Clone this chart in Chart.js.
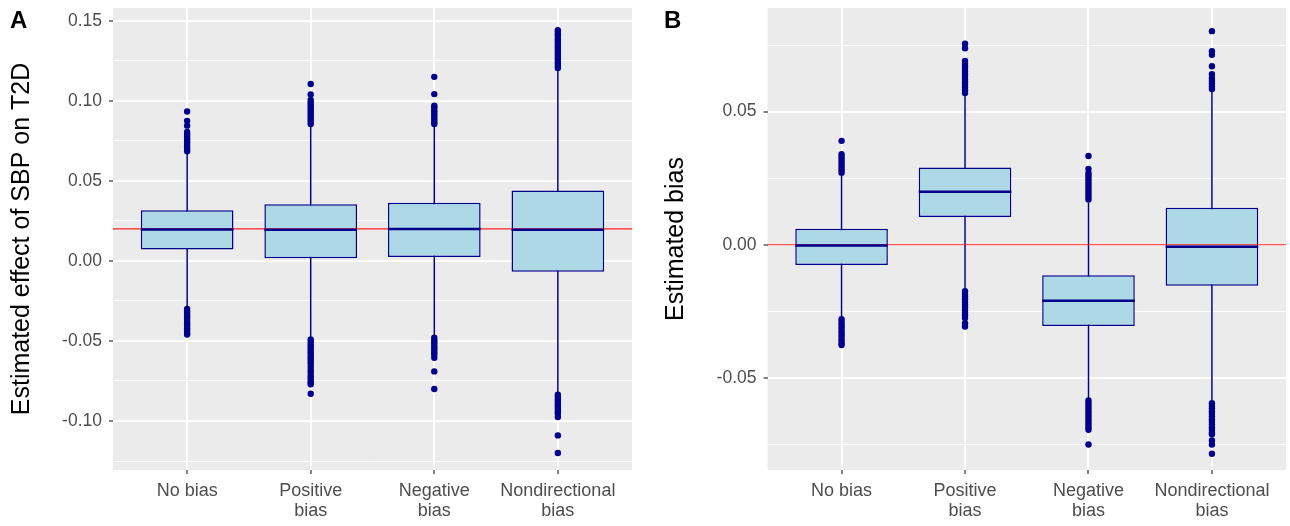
<!DOCTYPE html>
<html>
<head>
<meta charset="utf-8">
<script src="https://cdn.jsdelivr.net/npm/chart.js@4.4.1/dist/chart.umd.min.js"></script>
<style>
  body { margin: 0; background: #fff; width: 1290px; height: 526px; overflow: hidden; position: relative; }
  .panel { position: absolute; top: 0; }
  .tag { position: absolute; top: 8px; font: bold 24px/24px "Liberation Sans", Arial, sans-serif; color: #000; }
</style>
</head>
<body>
<div class="panel" style="left:0"><canvas id="chartA" width="640" height="526"></canvas></div>
<div class="panel" style="left:640px"><canvas id="chartB" width="650" height="526"></canvas></div>
<div class="tag" style="left:10px">A</div>
<div class="tag" style="left:664px">B</div>
<script>
var categories = [['No bias'], ['Positive', 'bias'], ['Negative', 'bias'], ['Nondirectional', 'bias']];

// Panel A - estimated effect of SBP on T2D
var a_q1 = [0.0071, 0.0017, 0.0025, -0.0067];
var a_median = [0.0196, 0.0195, 0.0200, 0.0195];
var a_q3 = [0.0317, 0.0354, 0.0363, 0.0440];
var a_whiskerLow = [-0.0296, -0.0477, -0.0469, -0.0820];
var a_whiskerHigh = [0.0673, 0.0840, 0.0844, 0.1194];
var a_outliersHigh = [
    [0.0685, 0.070, 0.0715, 0.073, 0.0745, 0.076, 0.0775, 0.079, 0.0805, 0.0845, 0.0875, 0.0933],
    [0.0855, 0.087, 0.0885, 0.090, 0.0915, 0.093, 0.0945, 0.096, 0.0975, 0.099, 0.1005, 0.104, 0.1105],
    [0.0855, 0.087, 0.0885, 0.090, 0.0915, 0.093, 0.0945, 0.096, 0.097, 0.1042, 0.115],
    [0.1205, 0.122, 0.1235, 0.125, 0.1265, 0.128, 0.1295, 0.131, 0.1325, 0.134, 0.1355, 0.137, 0.1385, 0.140, 0.1415, 0.143, 0.1442]
];
var a_outliersLow = [
    [-0.030, -0.0315, -0.033, -0.0345, -0.036, -0.0375, -0.039, -0.0405, -0.042, -0.0435, -0.045, -0.046],
    [-0.049, -0.0505, -0.052, -0.0535, -0.055, -0.0565, -0.058, -0.0595, -0.061, -0.0625, -0.064, -0.066, -0.068, -0.0695, -0.0715, -0.073, -0.0745, -0.076, -0.077, -0.083],
    [-0.048, -0.0495, -0.051, -0.0525, -0.054, -0.0555, -0.057, -0.0585, -0.0605, -0.069, -0.080],
    [-0.0835, -0.085, -0.0865, -0.088, -0.0895, -0.091, -0.0925, -0.094, -0.0955, -0.0975, -0.109, -0.120]
];
var a_reference = 0.02;
var a_ticks = [-0.125, -0.10, -0.075, -0.05, -0.025, 0, 0.025, 0.05, 0.075, 0.10, 0.125, 0.15];
var a_tickLabels = ['', '-0.10', '', '-0.05', '', '0.00', '', '0.05', '', '0.10', '', '0.15'];

// Panel B - estimated bias
var b_q1 = [-0.0076, 0.0104, -0.0305, -0.0154];
var b_median = [-0.0003, 0.0199, -0.0210, -0.0008];
var b_q3 = [0.0060, 0.0290, -0.0115, 0.0139];
var b_whiskerLow = [-0.0270, -0.0166, -0.0576, -0.0585];
var b_whiskerHigh = [0.0259, 0.0561, 0.0159, 0.0577];
var b_outliersHigh = [
    [0.027, 0.028, 0.029, 0.030, 0.031, 0.032, 0.033, 0.034, 0.039],
    [0.057, 0.058, 0.059, 0.060, 0.061, 0.062, 0.063, 0.064, 0.065, 0.066, 0.067, 0.068, 0.069, 0.0738, 0.0755],
    [0.017, 0.018, 0.019, 0.020, 0.021, 0.022, 0.023, 0.024, 0.025, 0.026, 0.027, 0.0285, 0.0333],
    [0.0585, 0.0595, 0.0605, 0.0615, 0.0625, 0.064, 0.067, 0.0713, 0.0727, 0.0802]
];
var b_outliersLow = [
    [-0.028, -0.029, -0.030, -0.031, -0.032, -0.033, -0.034, -0.035, -0.036, -0.037, -0.0377],
    [-0.0175, -0.0185, -0.0195, -0.0205, -0.0215, -0.0225, -0.0235, -0.0245, -0.0255, -0.0265, -0.0275, -0.0295, -0.0307],
    [-0.0585, -0.0595, -0.0605, -0.0615, -0.0625, -0.0635, -0.0645, -0.0655, -0.0665, -0.0675, -0.0685, -0.0695, -0.075],
    [-0.0595, -0.0605, -0.0615, -0.0625, -0.0635, -0.0645, -0.0655, -0.0665, -0.0675, -0.0685, -0.0695, -0.0705, -0.0712, -0.0735, -0.075, -0.0785]
];
var b_reference = 0;
var b_ticks = [-0.075, -0.05, -0.025, 0, 0.025, 0.05, 0.075];
var b_tickLabels = ['', '-0.05', '', '0.00', '', '0.05', ''];

var navy = '#00008B';
var boxFill = '#ADD8E6';
var boxWidth = 0.75;
var xMin = -0.6, xMax = 3.6;

Chart.defaults.font.family = '"Liberation Sans", Arial, sans-serif';

var panelBackground = {
    id: 'panelBackground',
    beforeDraw: function (chart) {
        var a = chart.chartArea, ctx = chart.ctx;
        ctx.save();
        ctx.fillStyle = '#EBEBEB';
        ctx.fillRect(a.left, a.top, a.right - a.left, a.bottom - a.top);
        ctx.restore();
    }
};

function drawPanel(id, p) {
    var boxes = [], whiskers = [], medians = [], points = [];
    p.q1.forEach(function (q, i) {
        boxes.push({x: i, y: [q, p.q3[i]]});
        whiskers.push({x: i, y: p.low[i]}, {x: i, y: p.high[i]}, {x: i, y: null});
        medians.push({x: i - boxWidth / 2, y: p.median[i]}, {x: i + boxWidth / 2, y: p.median[i]}, {x: i, y: null});
        p.outHigh[i].concat(p.outLow[i]).forEach(function (v) { points.push({x: i, y: v}); });
    });

    var ctx = document.getElementById(id).getContext('2d');
    new Chart(ctx, {
        type: 'bar',
        data: {
            datasets: [
                {type: 'scatter', data: points, order: 0, pointRadius: 3.2, backgroundColor: navy, borderWidth: 0},
                {type: 'line', data: medians, order: 1, borderColor: navy, borderWidth: 2.5, pointRadius: 0, spanGaps: false},
                {type: 'line', data: [{x: xMin, y: p.reference}, {x: xMax, y: p.reference}], order: 2,
                    borderColor: '#FF2020', borderWidth: 1.2, pointRadius: 0},
                {type: 'bar', data: boxes, order: 3, backgroundColor: boxFill, borderColor: navy, borderWidth: 1.5,
                    borderSkipped: false, barPercentage: boxWidth, categoryPercentage: 1},
                {type: 'line', data: whiskers, order: 4, borderColor: navy, borderWidth: 1.5, pointRadius: 0, spanGaps: false}
            ]
        },
        options: {
            responsive: false,
            animation: false,
            events: [],
            layout: {padding: {left: 0, top: 8, right: p.rightPad, bottom: 0}},
            plugins: {legend: {display: false}, tooltip: {enabled: false}},
            scales: {
                x: {
                    type: 'linear', min: xMin, max: xMax, offset: false,
                    afterBuildTicks: function (s) { s.ticks = categories.map(function (c, i) { return {value: i}; }); },
                    afterFit: function (s) { s.height = 56; s.paddingLeft = 0; s.paddingRight = 0; },
                    grid: {color: '#FFFFFF', lineWidth: 2, offset: false, tickColor: '#333333', tickLength: 4, tickWidth: 1.2},
                    border: {display: false},
                    ticks: {
                        autoSkip: false, maxRotation: 0, padding: 7.5, color: '#4D4D4D',
                        font: {size: 18, lineHeight: 1.11},
                        callback: function (v) { return categories[v]; }
                    }
                },
                y: {
                    min: p.yMin, max: p.yMax,
                    afterBuildTicks: function (s) { s.ticks = p.ticks.map(function (v) { return {value: v}; }); },
                    afterFit: function (s) { s.width = p.axisWidth; s.paddingTop = 0; s.paddingBottom = 0; },
                    grid: {
                        color: '#FFFFFF',
                        lineWidth: function (c) { return p.labels[c.index] ? 2 : 1; },
                        tickColor: function (c) { return p.labels[c.index] ? '#333333' : 'rgba(0,0,0,0)'; },
                        tickLength: 4, tickWidth: 1.2
                    },
                    border: {display: false},
                    ticks: {
                        padding: 7, color: '#4D4D4D', font: {size: 17.5},
                        callback: function (v, i) { return p.labels[i]; }
                    },
                    title: {display: true, text: p.title, color: '#000000', font: {size: 25}, padding: {top: p.titlePad, bottom: 0}}
                }
            }
        },
        plugins: [panelBackground]
    });
}

drawPanel('chartA', {
    q1: a_q1, median: a_median, q3: a_q3, low: a_whiskerLow, high: a_whiskerHigh,
    outHigh: a_outliersHigh, outLow: a_outliersLow, reference: a_reference,
    ticks: a_ticks, labels: a_tickLabels, yMin: -0.1306, yMax: 0.158,
    title: 'Estimated effect of SBP on T2D', axisWidth: 113, titlePad: 7, rightPad: 8
});
drawPanel('chartB', {
    q1: b_q1, median: b_median, q3: b_q3, low: b_whiskerLow, high: b_whiskerHigh,
    outHigh: b_outliersHigh, outLow: b_outliersLow, reference: b_reference,
    ticks: b_ticks, labels: b_tickLabels, yMin: -0.0846, yMax: 0.0889,
    title: 'Estimated bias', axisWidth: 127.5, titlePad: 21, rightPad: 4
});
</script>
</body>
</html>
